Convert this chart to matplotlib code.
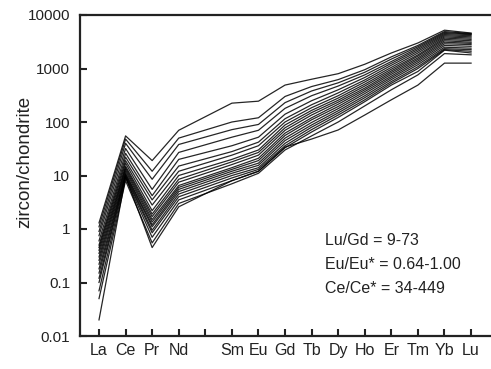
import numpy as np
import matplotlib
matplotlib.use('Agg')
import matplotlib.pyplot as plt

plt.rcParams['font.family'] = ['Liberation Sans', 'DejaVu Sans']

# REE order on the x axis (Pm has a tick but no data)
ree = ['La', 'Ce', 'Pr', 'Nd', '', 'Sm', 'Eu', 'Gd', 'Tb', 'Dy', 'Ho', 'Er', 'Tm', 'Yb', 'Lu']
measured = ['La', 'Ce', 'Pr', 'Nd', 'Sm', 'Eu', 'Gd', 'Tb', 'Dy', 'Ho', 'Er', 'Tm', 'Yb', 'Lu']

# chondrite-normalised values, one list per element, one entry per zircon spot
la = [1.3, 1.1, 0.9, 0.75, 0.6, 0.5, 0.45, 0.4, 0.35, 0.3, 0.26, 0.22, 0.18, 0.15, 0.12, 0.1, 0.07, 0.05, 0.02]
ce = [55, 48, 40, 32, 26, 22, 19, 17, 15, 14, 13, 12, 11, 10.5, 10, 9.5, 9, 8, 9.5]
pr = [19, 12, 8.5, 5.5, 4.2, 3.5, 2.8, 2.2, 1.9, 1.7, 1.5, 1.35, 1.2, 1.1, 0.95, 0.85, 0.7, 0.55, 0.45]
nd = [70, 50, 38, 27, 20, 15, 12, 10, 8.5, 7.5, 6.5, 6, 5.5, 5, 4.5, 4, 3.5, 3, 2.6]
sm = [225, 100, 72, 52, 36, 28, 24, 20, 18, 16, 14, 13, 12, 11, 10, 9, 8, 7, 8]
eu = [245, 120, 90, 70, 52, 42, 36, 30, 27, 24, 21, 19, 17, 15.5, 14, 13, 12, 11, 12]
gd = [490, 300, 230, 180, 140, 115, 100, 88, 78, 70, 62, 56, 50, 45, 40, 36, 33, 30, 34]
tb = [630, 460, 380, 310, 250, 210, 185, 165, 150, 135, 120, 110, 98, 88, 80, 72, 65, 55, 48]
dy = [800, 620, 540, 470, 400, 350, 310, 280, 255, 235, 215, 195, 178, 162, 148, 135, 122, 100, 71]
ho = [1200, 950, 850, 760, 680, 610, 560, 510, 470, 430, 400, 370, 340, 310, 285, 260, 240, 200, 135]
er = [1950, 1650, 1500, 1350, 1250, 1150, 1050, 970, 900, 840, 780, 720, 670, 620, 570, 530, 490, 400, 260]
tm = [3000, 2700, 2550, 2400, 2250, 2100, 1950, 1800, 1700, 1580, 1480, 1380, 1280, 1180, 1080, 1000, 880, 760, 490]
yb = [5200, 4900, 4700, 4500, 4300, 4100, 3900, 3700, 3500, 3300, 3100, 2900, 2700, 2500, 2350, 2250, 2200, 1900, 1260]
lu = [4600, 4500, 4400, 4300, 4100, 3900, 3700, 3500, 3300, 3100, 2950, 2800, 2600, 2400, 2250, 2100, 1950, 1800, 1260]

notes = ['Lu/Gd = 9-73', 'Eu/Eu* = 0.64-1.00', 'Ce/Ce* = 34-449']

cols = [la, ce, pr, nd, sm, eu, gd, tb, dy, ho, er, tm, yb, lu]
vals = np.array(cols).T
xpos = [ree.index(e) for e in measured]

fig = plt.figure(figsize=(4.91, 3.69), dpi=100)
ax = fig.add_axes([80/491, 33/369, 411/491, 321/369])

for row in vals:
    ax.plot(xpos, row, color='black', lw=0.9, alpha=0.85)

ax.set_yscale('log')
ax.set_ylim(0.01, 10000)
ax.set_xlim(-0.715, 14.75)
ax.set_yticks([0.01, 0.1, 1, 10, 100, 1000, 10000])
ax.set_yticklabels(['0.01', '0.1', '1', '10', '100', '1000', '10000'])
ax.minorticks_off()
ax.set_xticks(range(len(ree)))
ax.set_xticklabels(ree)

ax.tick_params(axis='y', direction='in', length=5, width=1.5, labelsize=11, pad=7, colors='#222')
ax.tick_params(axis='x', direction='in', length=5, width=1.5, labelsize=11.5, pad=5, colors='#222')
for s in ['left', 'bottom', 'top']:
    ax.spines[s].set_linewidth(1.6)
    ax.spines[s].set_color('#222')
ax.spines['right'].set_visible(False)

ax.set_ylabel('zircon/chondrite', fontsize=13.5, color='#222')
ax.yaxis.set_label_coords(-0.114, 0.542)

for i, t in enumerate(notes):
    ax.text(0.596, 0.299 - i*0.075, t, transform=ax.transAxes, fontsize=11.5,
            va='center', ha='left', color='#222')

plt.savefig('out.png', dpi=100)
plt.close()
